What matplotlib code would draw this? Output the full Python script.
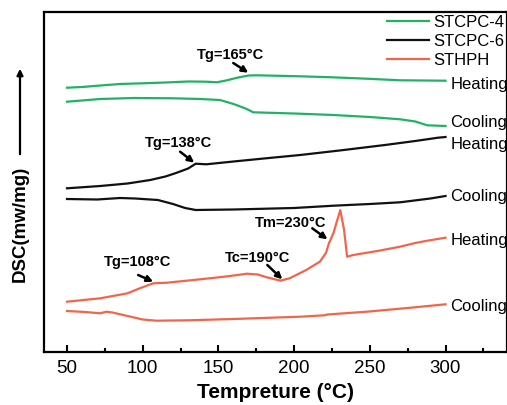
import matplotlib
matplotlib.use("Agg")
import matplotlib.pyplot as plt
from matplotlib.ticker import MultipleLocator

plt.rcParams['font.family'] = ['Liberation Sans', 'DejaVu Sans']

GREEN = '#21b266'
BLACK = '#111111'
RED = '#f2654b'

# STCPC-4
stcpc4_heat_T = [50, 60, 72, 85, 100, 115, 130, 142, 149, 155, 163, 170, 175, 190, 204, 225, 248, 270, 285, 300]
stcpc4_heat_y = [264.3, 265, 266.5, 268, 268.7, 269.5, 270.5, 270.3, 269.7, 271.5, 274.5, 276.5, 276.7, 276.2,
                 275.7, 274.7, 273.3, 271.7, 271.5, 271.3]
stcpc4_cool_T = [50, 72, 94, 120, 138, 151, 160, 168, 173, 182, 200, 226, 250, 270, 280, 288, 300]
stcpc4_cool_y = [250.3, 253, 254, 253.7, 253, 252, 248, 243.5, 239.7, 239.3, 238.5, 237, 235, 232.7, 230.5,
                 226.7, 226]

# STCPC-6
stcpc6_heat_T = [50, 72, 90, 105, 115, 122, 130, 135, 142, 160, 180, 204, 230, 260, 280, 295, 300]
stcpc6_heat_y = [163.7, 166, 168.5, 172, 175.5, 179, 183.5, 188.3, 187.7, 190.5, 193.5, 197, 201.5, 207, 211,
                 214.3, 215]
stcpc6_cool_T = [50, 70, 85, 95, 110, 120, 128, 135, 160, 200, 226, 250, 270, 290, 300]
stcpc6_cool_y = [153, 152.5, 154, 153.5, 152, 148, 144, 142, 142.5, 144, 146.3, 148, 149.7, 153.5, 156]

# STHPH
sthph_heat_T = [50, 72, 90, 98, 107, 116, 138, 155, 169, 176, 182, 191, 197, 208, 217, 221, 223, 226, 228.5,
                230.5, 233, 235, 239, 255, 270, 280, 288, 300]
sthph_heat_y = [50.3, 53.7, 58.7, 63.7, 68.7, 69.3, 72.7, 75.5, 78.3, 77.5, 74.7, 71.3, 73.7, 82, 90.3, 99,
                108.7, 119, 132, 142, 122, 95.3, 97, 101, 105.3, 109, 111.3, 114.3]
sthph_cool_T = [50, 62, 72, 76, 80, 90, 100, 109, 130, 160, 204, 220, 222, 248, 275, 300]
sthph_cool_y = [41, 40, 38.7, 40.3, 39.5, 36, 32.5, 31.3, 31.7, 33, 35.3, 36.7, 37.5, 40.3, 44, 47.7]

series_names = ['STCPC-4', 'STCPC-6', 'STHPH']

# run tags placed beside the curve ends
tag_text = ['Heating', 'Cooling', 'Heating', 'Cooling', 'Heating', 'Cooling']
tag_y = [267, 230, 208, 155, 111.3, 46]

# transition annotations: text, text position, arrow tail, arrow head
notes = [
    ('Tg=165°C', (157.8, 297), (159.8, 289), (169.7, 279.3)),
    ('Tg=138°C', (123.4, 209), (124.7, 200.3), (134.0, 189.3)),
    ('Tg=108°C', (96.3, 90.3), (97.0, 77.0), (106.9, 70.3)),
    ('Tc=190°C', (175.7, 93.7), (182.3, 87.0), (192.2, 72.7)),
    ('Tm=230°C', (197.5, 129.3), (212.0, 123.7), (222.0, 112.7)),
]

W, H = 507, 405
fig = plt.figure(figsize=(W / 100, H / 100), dpi=100)
ax = fig.add_axes([44 / W, 1 - 352 / H, 463 / W, 340 / H])

lw = 1.6
l1, = ax.plot(stcpc4_heat_T, stcpc4_heat_y, color=GREEN, lw=lw)
ax.plot(stcpc4_cool_T, stcpc4_cool_y, color=GREEN, lw=lw)
l2, = ax.plot(stcpc6_heat_T, stcpc6_heat_y, color=BLACK, lw=lw)
ax.plot(stcpc6_cool_T, stcpc6_cool_y, color=BLACK, lw=lw)
l3, = ax.plot(sthph_heat_T, sthph_heat_y, color=RED, lw=lw)
ax.plot(sthph_cool_T, sthph_cool_y, color=RED, lw=lw)

for tag, y in zip(tag_text, tag_y):
    ax.text(303.3, y, tag, fontsize=12, ha='left', va='center', clip_on=False)

for txt, tpos, tail, head in notes:
    ax.text(tpos[0], tpos[1], txt, fontsize=10.5, fontweight='bold', ha='center', va='center')
    ax.annotate('', xy=head, xytext=tail,
                arrowprops=dict(arrowstyle='-|>', color='black', lw=1.8, mutation_scale=9,
                                shrinkA=0, shrinkB=0))

ax.set_xlim(34.8, 340.6)
ax.set_ylim(0, 340)
ax.xaxis.set_major_locator(MultipleLocator(50))
ax.xaxis.set_minor_locator(MultipleLocator(25))
ax.tick_params(axis='x', which='major', direction='in', length=5, width=1.5, labelsize=13.5, pad=6)
ax.tick_params(axis='x', which='minor', direction='in', length=3, width=1.5)
ax.tick_params(axis='y', left=False, labelleft=False)
ax.tick_params(top=False, right=False)
for sp in ax.spines.values():
    sp.set_linewidth(1.6)

ax.set_xlabel('Tempreture (°C)', fontsize=15, fontweight='bold', labelpad=4)

leg = ax.legend([l1, l2, l3], series_names, loc='upper left', bbox_to_anchor=(387 / W, 1 - 15 / H),
                bbox_transform=fig.transFigure, frameon=False, fontsize=12, handlelength=2.5,
                handletextpad=0.3, labelspacing=0.25, borderpad=0, borderaxespad=0)

# vertical axis label with upward arrow
fig.text(20 / W, 1 - 224 / H, 'DSC(mw/mg)', rotation=90, fontsize=13.5, fontweight='bold',
         ha='center', va='center')
fig.patches.append(matplotlib.patches.FancyArrowPatch(
    (20 / W, 1 - 157 / H), (20 / W, 1 - 66 / H), transform=fig.transFigure,
    arrowstyle='-|>', mutation_scale=9, lw=1.6, color='black'))

fig.savefig('out.png', dpi=100)
